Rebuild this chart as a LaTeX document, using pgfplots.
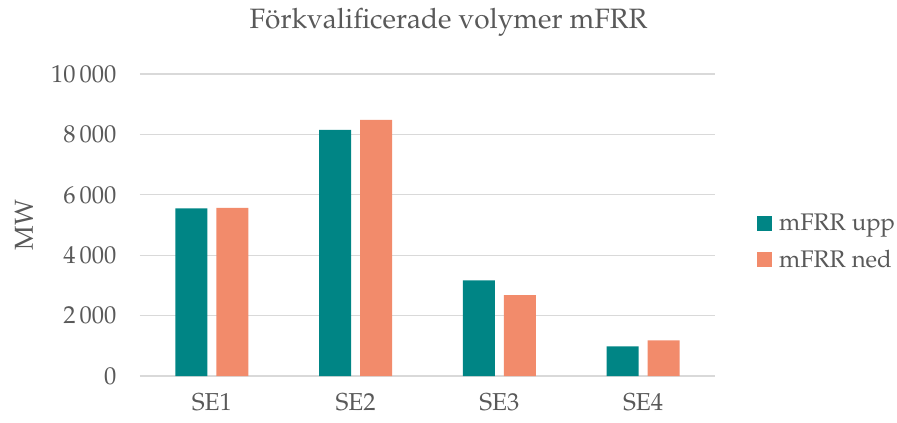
\documentclass[border=0pt]{standalone}
\usepackage[T1]{fontenc}
\usepackage{mathpazo}
\usepackage{pgfplots}
\pgfplotsset{compat=1.18}
\definecolor{upp}{RGB}{0,133,133}
\definecolor{ned}{RGB}{242,139,107}
\definecolor{txt}{RGB}{89,89,89}
\definecolor{grd}{RGB}{217,217,217}
\begin{document}
\begin{tikzpicture}[x=1pt,y=1pt]
\path[use as bounding box] (-140,-47) rectangle (757,376);
\begin{axis}[
  at={(0,0)}, anchor=south west,
  scale only axis, width=575pt, height=302pt,
  xmin=-0.5, xmax=3.5, ymin=0, ymax=10000,
  ybar, bar width=32pt,
  xtick={0,1,2,3}, xticklabels={SE1,SE2,SE3,SE4},
  ytick={0,2000,4000,6000,8000,10000},
  scaled y ticks=false,
  major tick length=0pt,
  ymajorgrids, grid style={grd, line width=1.3pt},
  axis x line*=bottom, axis y line*=left,
  x axis line style={grd, line width=1.3pt, -},
  y axis line style={draw=none},
  tick label style={txt, font=\fontsize{24.5}{28}\selectfont},
  yticklabel style={xshift=-20pt},
  xticklabel style={yshift=-14pt},
  yticklabel={\pgfmathprintnumber[fixed, precision=0, 1000 sep={\,}, assume math mode=true]{\tick}},
  legend style={at={(1.073,0.445)}, anchor=west, draw=none, fill=none,
    inner sep=0pt, row sep=18pt, column sep=7pt, font=\fontsize{24}{28}\selectfont, text=txt,
    nodes={inner sep=0pt}},
  legend cell align=left,
  legend image code/.code={\fill[#1] (0pt,-7.5pt) rectangle (15pt,7.5pt);},
]
\addplot[fill=upp, draw=none, bar shift=-20.5pt] coordinates {(0,5550) (1,8150) (2,3170) (3,980)};
\addplot[fill=ned, draw=none, bar shift=20.5pt] coordinates {(0,5570) (1,8480) (2,2680) (3,1180)};
\legend{mFRR upp, mFRR ned}
\end{axis}
\node[txt, font=\fontsize{28}{32}\selectfont] at (308.5,354) {F\"{o}rkvalificerade volymer mFRR};
\node[txt, font=\fontsize{26}{30}\selectfont, rotate=90] at (-116,151) {MW};
\end{tikzpicture}
\end{document}
